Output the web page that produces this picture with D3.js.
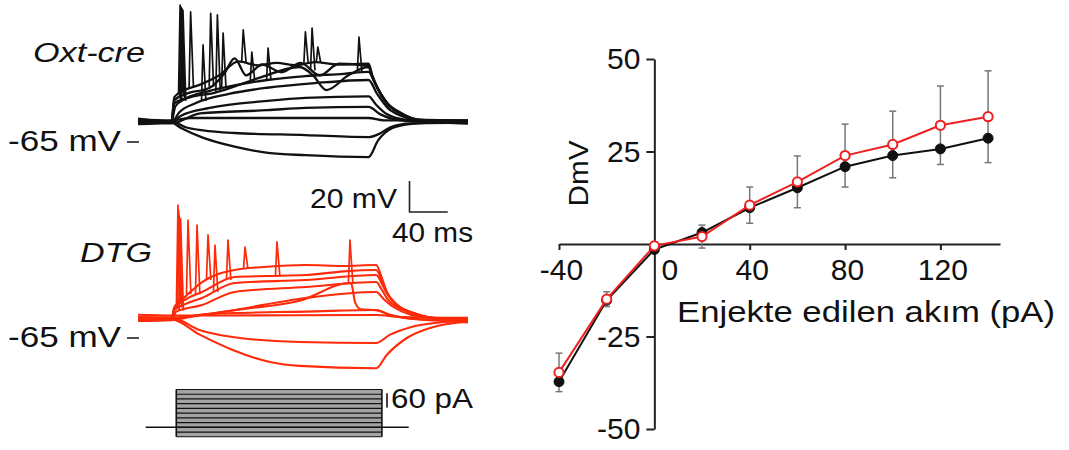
<!DOCTYPE html>
<html>
<head>
<meta charset="utf-8">
<script src="https://cdn.jsdelivr.net/npm/d3@7"></script>
<style>
  body { margin: 0; background: #fff; }
  svg text { font-family: "Liberation Sans", Arial, sans-serif; fill: #111; }
</style>
</head>
<body>
<svg id="fig" width="1069" height="450"></svg>
<script>
/* globals d3 */

// ---- I-V plot ----
const ivCurrent = [-40, -20, 0, 20, 40, 60, 80, 100, 120, 140];
const oxtDeltaV = [-37.2, -15.2, -1.5, 3.1, 9.8, 15.2, 20.9, 23.9, 25.7, 28.6];
const dtgDeltaV = [-34.7, -14.9, -0.5, 2.0, 10.5, 16.8, 23.9, 26.9, 32.1, 34.4];
const dtgErr = [5.2, 2.0, 1.0, 3.1, 4.9, 7.0, 8.5, 9.0, 10.6, 12.4];
const ivXTicks = [-40, 0, 40, 80, 120];
const ivYTicks = [-50, -25, 25, 50];

// ---- current steps (pA) and timing (ms) ----
const stimLevels = [-40, -20, 0, 20, 40, 60, 80, 100, 120, 140, 160];
const stimTimes = [-27, 5, 220, 248]; // start, on, off, end

// ---- voltage traces: [ms, mV], one array per sweep, -40 .. 140 pA ----
const oxtTraces = [
  [[-35,-52],[0,-52.5],[10,-56],[32,-62],[66,-68],[101,-72],[140,-73.5],[206,-74.7],[216,-64],[231,-56],[249,-53.4],[281,-52.2],[310,-52]],
  [[-35,-51.5],[0,-51.5],[15,-55.5],[33,-57.5],[66,-59.2],[140,-60.5],[207,-61.8],[218,-59.5],[229,-55.5],[250,-53],[310,-52.5]],
  [[-35,-50.5],[0,-51],[20,-49.5],[100,-49.5],[206,-49.5],[222,-51],[310,-51]],
  [[-35,-53],[0,-53],[30,-46.5],[100,-44.5],[140,-43],[206,-42.4],[218,-47],[240,-51],[310,-53]],
  [[-35,-51],[0,-52],[10,-48],[40,-43],[100,-38.5],[140,-36.5],[206,-35.5],[214,-41],[225,-47],[245,-50.5],[310,-51.5]],
  [[-35,-52.5],[0,-52.5],[8,-46],[25,-40],[60,-34],[100,-30],[150,-27],[206,-25],[215,-34],[226,-43],[242,-48.5],[265,-51.5],[310,-52.5]],
  [[-35,-50],[0,-52],[4,-42],[15,-37],[40,-32],[70,-28],[100,-25],[140,-22.5],[180,-21],[206,-19.8],[212,-26],[218,-33],[227,-41],[240,-46.5],[258,-50.5],[310,-51]],
  [[-35,-53.5],[0,-52],[3,-40],[20,-36],[44,-33.4],[90,-24],[134,-16.6],[148,-22],[162,-31.5],[185,-22],[206,-16.6],[210,-23],[215,-30],[225,-40],[239,-46.3],[257,-50.8],[310,-53]],
  [[-35,-51],[0,-52],[3,-38],[15,-34],[40,-30],[55,-21],[66,-11],[78,-22],[95,-15],[115,-20],[135,-14],[155,-22],[175,-14.5],[206,-16],[210,-23],[215,-30],[225,-40],[239,-46.3],[257,-50.8],[310,-51.5]],
  [[-35,-52],[0,-52],[3,-36],[12,-32],[30,-28],[50,-22],[70,-13],[90,-15.5],[110,-14],[130,-15.5],[150,-13.5],[175,-15],[206,-14.5],[210,-22],[215,-29.5],[225,-39.5],[239,-46],[257,-50.5],[310,-52]]
];
// spikes: [ms, base mV, peak mV]
const oxtSpikes = [
  [33,-38.6,-2.4],
  [12,-38.4,20],[54,-30.1,5.3],[101,-25,-4.4],
  [11,-38.1,21],[48,-32.6,17],[84,-25.2,-7],[196,-19.2,2.7],
  [10,-35.7,22],[41,-29.4,18],[147,-18.8,8.5],
  [9,-33.3,23.4],[20,-30.2,19],[75,-13.6,7.3],[140,-14.5,6],[153,-13.7,-3.7]
];

const dtgTraces = [
  [[-35,-53],[0,-53],[30,-63],[64,-72.7],[103,-80.5],[134,-83],[214,-84.5],[225,-76],[246,-65],[273,-58],[310,-54.5]],
  [[-35,-52],[0,-52],[30,-60],[64,-64.4],[134,-67.6],[214,-68.2],[228,-63],[250,-58],[280,-55],[310,-53.5]],
  [[-35,-50],[0,-50.5],[40,-50.5],[214,-50.2],[240,-51.5],[310,-52]],
  [[-35,-54],[0,-53.5],[32,-50],[66,-48.9],[140,-48],[214,-46.9],[228,-50],[260,-53],[310,-54.5]],
  [[-35,-52],[0,-52],[32,-50.2],[66,-46.9],[140,-39.2],[214,-35.3],[222,-40],[232,-45],[250,-50],[280,-52.5],[310,-53]],
  [[-35,-52],[0,-52],[30,-50],[80,-46],[134,-41],[186,-29.5],[188,-30],[192,-42],[198,-46.5],[214,-47],[228,-50],[260,-53],[310,-53.5]],
  [[-35,-53],[0,-53],[5,-48],[32,-43.7],[66,-35.3],[140,-32.1],[214,-28.9],[220,-34],[226,-40],[236,-45],[253,-49.5],[273,-52],[310,-54]],
  [[-35,-51.5],[0,-52],[3,-47],[15,-43],[32,-39.2],[66,-29.5],[140,-27.6],[214,-24.4],[220,-30],[225,-36],[236,-43.7],[253,-48.9],[273,-52],[310,-53]],
  [[-35,-53],[0,-53],[3,-46],[15,-40],[32,-35.3],[66,-25.6],[100,-25],[140,-24.4],[180,-22],[214,-21.1],[220,-28],[225,-35.3],[236,-43.7],[253,-48.9],[273,-52.1],[310,-55]],
  [[-35,-52.5],[0,-52.5],[3,-45],[15,-38],[32,-28.9],[66,-21.1],[100,-19],[140,-17.9],[180,-18.5],[214,-17.9],[220,-26.3],[225,-35.3],[236,-43.7],[253,-48.9],[273,-52.1],[310,-53.5]]
];
const dtgSpikes = [
  [186.6,-29.5,-1.8],
  [9.5,-47.3,12],
  [8,-45.3,14],[45.5,-35.3,-5],
  [7.5,-43.7,17],[26.7,-36.8,7.9],[59.1,-27.6,-1.8],[110.3,-24.8,-3],
  [6.8,-42.8,20.8],[17.3,-36.8,11],[38.2,-27.5,1.5],[76.9,-20.4,-6.3]
];

const BLACK = "#111", RED = "#ff2a0a", IVRED = "#ee2020";
const svg = d3.select("#fig");

function label(g, str, x, y, size, len, italic) {
  return g.append("text")
    .attr("x", x).attr("y", y)
    .attr("font-size", size)
    .attr("font-style", italic ? "italic" : null)
    .attr("textLength", len)
    .attr("lengthAdjust", "spacingAndGlyphs")
    .text(str);
}

// ================= traces =================
var xT = d3.scaleLinear().domain([-35, 310]).range([138, 468]),
  yOxt = d3.scaleLinear().domain([-65, -45]).range([142, 111]),
  yDtg = d3.scaleLinear().domain([-65, -45]).range([338, 307]),
  yStim = d3.scaleLinear().domain([0, 160]).range([427.3, 389.5]);

function drawTraces(traces, spikes, y, color, width) {
  var g = svg.append("g")
    .attr("fill", "none")
    .attr("stroke", color)
    .attr("stroke-linejoin", "round");
  var line = d3.line()
    .x((d) => xT(d[0]))
    .y((d) => y(d[1]))
    .curve(d3.curveMonotoneX);
  g.selectAll(".sweep")
    .data(traces)
    .enter()
    .append("path")
    .attr("class", "sweep")
    .attr("stroke-width", width)
    .attr("d", line);
  // each spike: fast rise to peak, slower fall
  g.selectAll(".spike")
    .data(spikes)
    .enter()
    .append("path")
    .attr("class", "spike")
    .attr("stroke-width", 1.7)
    .attr("d", (s) => d3.line()([
      [xT(s[0] - 1.6), y(s[1])],
      [xT(s[0]), y(s[2])],
      [xT(s[0] + 3), y(s[1])]
    ]));
}

drawTraces(oxtTraces, oxtSpikes, yOxt, BLACK, 2.3);
drawTraces(dtgTraces, dtgSpikes, yDtg, RED, 2.1);

var txt = svg.append("g");
label(txt, "Oxt-cre", 33, 62, 27, 112, true);
label(txt, "DTG", 80, 262, 27, 72, true);
label(txt, "-65 mV", 8, 151, 29, 113);
label(txt, "-65 mV", 8, 347, 29, 113);
[yOxt(-65), yDtg(-65)].forEach((yy) => {
  svg.append("line")
    .attr("x1", 127).attr("x2", 139)
    .attr("y1", yy).attr("y2", yy)
    .attr("stroke", "#222").attr("stroke-width", 1.6);
});

// scale bar 20 mV / 40 ms
var sbX = 409.5, sbY = 212;
svg.append("path")
  .attr("fill", "none").attr("stroke", "#222").attr("stroke-width", 1.6)
  .attr("d", "M" + sbX + "," + (sbY - (yOxt(-65) - yOxt(-45))) +
    "V" + sbY + "H" + (sbX + xT(40) - xT(0)));
label(txt, "20 mV", 310, 208, 28, 87);
label(txt, "40 ms", 392, 242, 28, 81);

// current steps
var st = svg.append("g");
st.append("rect")
  .attr("x", xT(stimTimes[1]))
  .attr("width", xT(stimTimes[2]) - xT(stimTimes[1]))
  .attr("y", yStim(d3.max(stimLevels)))
  .attr("height", yStim(d3.min(stimLevels)) - yStim(d3.max(stimLevels)))
  .attr("fill", "#a3a3a3");
st.selectAll(".lvl")
  .data(stimLevels)
  .enter()
  .append("line")
  .attr("class", "lvl")
  .attr("x1", xT(stimTimes[1])).attr("x2", xT(stimTimes[2]))
  .attr("y1", (d) => yStim(d)).attr("y2", (d) => yStim(d))
  .attr("stroke", "#111").attr("stroke-width", 1.2);
[stimTimes[1], stimTimes[2]].forEach((t) => {
  st.append("line")
    .attr("x1", xT(t)).attr("x2", xT(t))
    .attr("y1", yStim(d3.max(stimLevels))).attr("y2", yStim(d3.min(stimLevels)))
    .attr("stroke", "#111").attr("stroke-width", 1.6);
});
st.append("line")
  .attr("x1", xT(stimTimes[0])).attr("x2", xT(stimTimes[3]))
  .attr("y1", yStim(0)).attr("y2", yStim(0))
  .attr("stroke", "#111").attr("stroke-width", 1.6);
// 60 pA bar
st.append("line")
  .attr("x1", 387).attr("x2", 387)
  .attr("y1", 407.5 - (yStim(0) - yStim(60))).attr("y2", 407.5)
  .attr("stroke", "#111").attr("stroke-width", 1.6);
label(txt, "60 pA", 391, 408, 27, 82);

// ================= I-V plot =================
var xIV = d3.scaleLinear().domain([-40, 145]).range([559, 1000]),
  yIV = d3.scaleLinear().domain([-50, 50]).range([429, 59]);

var iv = svg.append("g");
var plain = (d) => String(d); // keep the hyphen minus of the original

var xAxis = iv.append("g")
  .attr("transform", "translate(0," + yIV(0) + ")")
  .call(d3.axisBottom(xIV).tickValues(ivXTicks).tickFormat(plain)
    .tickSize(6).tickSizeOuter(0).tickPadding(9));
xAxis.selectAll("text")
  .attr("font-size", 30)
  .attr("dx", (d) => (d === 0 ? 15 : 2));

var yAxis = iv.append("g")
  .attr("transform", "translate(" + xIV(0) + ",0)")
  .call(d3.axisLeft(yIV).tickValues(ivYTicks).tickFormat(plain)
    .tickSize(8).tickSizeOuter(0).tickPadding(6));
yAxis.selectAll("text").attr("font-size", 30);

iv.selectAll(".domain, .tick line")
  .attr("stroke", "#222")
  .attr("stroke-width", 2);
iv.selectAll("g").attr("font-family", null);

// axis titles
iv.append("text")
  .attr("transform", "translate(588," + 173.5 + ") rotate(-90)")
  .attr("text-anchor", "middle")
  .attr("font-size", 28)
  .attr("textLength", 66)
  .attr("lengthAdjust", "spacingAndGlyphs")
  .text("DmV");
label(iv, "Enjekte edilen akım (pA)", 677, 322, 29, 378);

// error bars (DTG)
var eb = iv.append("g")
  .attr("stroke", "#777")
  .attr("stroke-width", 1.5);
ivCurrent.forEach((c, i) => {
  var x = xIV(c),
    y1 = yIV(dtgDeltaV[i] + dtgErr[i]),
    y2 = yIV(dtgDeltaV[i] - dtgErr[i]);
  eb.append("line").attr("x1", x).attr("x2", x).attr("y1", y1).attr("y2", y2);
  eb.append("line").attr("x1", x - 3.5).attr("x2", x + 3.5).attr("y1", y1).attr("y2", y1);
  eb.append("line").attr("x1", x - 3.5).attr("x2", x + 3.5).attr("y1", y2).attr("y2", y2);
});

function series(vals, color, filled) {
  var pts = ivCurrent.map((c, i) => [c, vals[i]]);
  iv.append("path")
    .datum(pts)
    .attr("fill", "none")
    .attr("stroke", color)
    .attr("stroke-width", 2)
    .attr("d", d3.line().x((d) => xIV(d[0])).y((d) => yIV(d[1])));
  iv.selectAll(null)
    .data(pts)
    .enter()
    .append("circle")
    .attr("cx", (d) => xIV(d[0]))
    .attr("cy", (d) => yIV(d[1]))
    .attr("r", filled ? 5 : 4.6)
    .attr("fill", filled ? color : "#fff")
    .attr("stroke", color)
    .attr("stroke-width", filled ? 1 : 2);
}
series(oxtDeltaV, BLACK, true);
series(dtgDeltaV, IVRED, false);
</script>
</body>
</html>
